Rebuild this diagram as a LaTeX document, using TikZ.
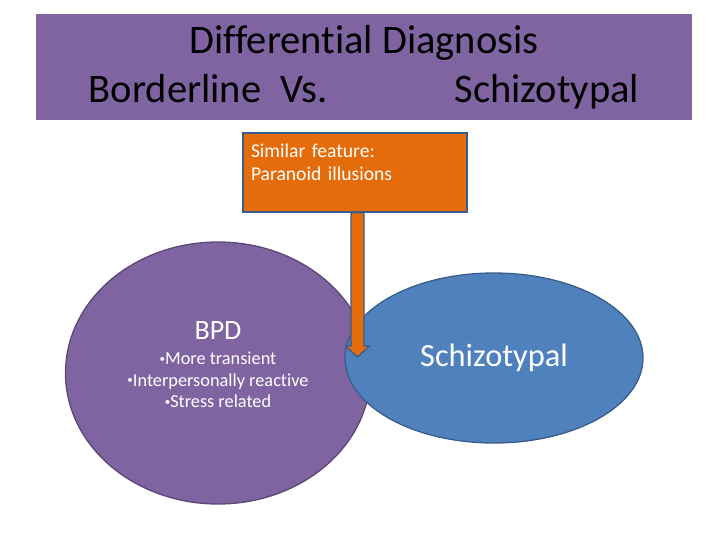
\documentclass[tikz,border=0pt]{standalone}
\usepackage{fontspec}
\setmainfont[Ligatures=NoCommon]{Carlito}
\usepackage{xcolor}
\usetikzlibrary{shapes.geometric}
\usetikzlibrary{calc}

\definecolor{titlepurple}{HTML}{8064A2}
\definecolor{darkpurple}{HTML}{5C4776}
\definecolor{boxorange}{HTML}{E46C0A}
\definecolor{ovalblue}{HTML}{4F81BD}
\definecolor{darkblue}{HTML}{385D8A}

\newcommand{\smallbullet}{\raisebox{.3ex}{\scalebox{.6}{\textbullet}}}

\begin{document}
\begin{tikzpicture}[x=1pt,y=-1pt,
  title node/.style={rectangle,fill=titlepurple,minimum width=656pt,minimum height=106pt,
    inner sep=0pt,align=center,font=\fontsize{40.5}{49}\selectfont},
  feature node/.style={rectangle,fill=boxorange,draw=darkblue,line width=1.3pt,text=white,
    minimum width=224pt,minimum height=79pt,inner xsep=8pt,inner ysep=3pt,text width=208pt,
    align=left,font=\fontsize{19.6}{23}\selectfont},
  bpd node/.style={ellipse,fill=titlepurple,draw=darkpurple,line width=1.3pt,text=white,
    minimum width=305pt,minimum height=262pt,inner sep=0pt,align=center,
    font=\fontsize{18.3}{21.5}\selectfont},
  schizo node/.style={ellipse,fill=ovalblue,draw=darkblue,line width=1.3pt,text=white,
    minimum width=298pt,minimum height=170pt,inner sep=0pt,font=\fontsize{32.4}{34}\selectfont},
  arrow body/.style={fill=boxorange,draw=darkblue,line width=1.3pt,line join=miter}]

  \useasboundingbox (0,0) rectangle (728,546);

  \node[title node] (1) at (364,67) {Differential Diagnosis\\
    Borderline\hspace{19pt}Vs.\hspace{127pt}Schizotypal};
  \node[feature node] (2) at (355,172.5)
    {Similar feature:\\Paranoid illusions\rule[-21pt]{0pt}{0pt}};
  \node[bpd node] (3) at (218,373)
    {{\fontsize{28}{30}\selectfont BPD}\\[3.5pt]
     \smallbullet More transient\\
     \smallbullet Interpersonally reactive\\
     \smallbullet Stress related\rule[-16pt]{0pt}{0pt}};
  \node[schizo node] (4) at (494,358) {Schizotypal};
  \coordinate (tip) at (357.5,357);

  \path[arrow body] ($(2.south -| tip)+(-6.5,0)$) -- ($(tip)+(-6.5,-11)$)
    -- ($(tip)+(-12,-11)$) -- (tip) -- ($(tip)+(12,-11)$)
    -- ($(tip)+(6.5,-11)$) -- ($(2.south -| tip)+(6.5,0)$) -- cycle;
\end{tikzpicture}
\end{document}
